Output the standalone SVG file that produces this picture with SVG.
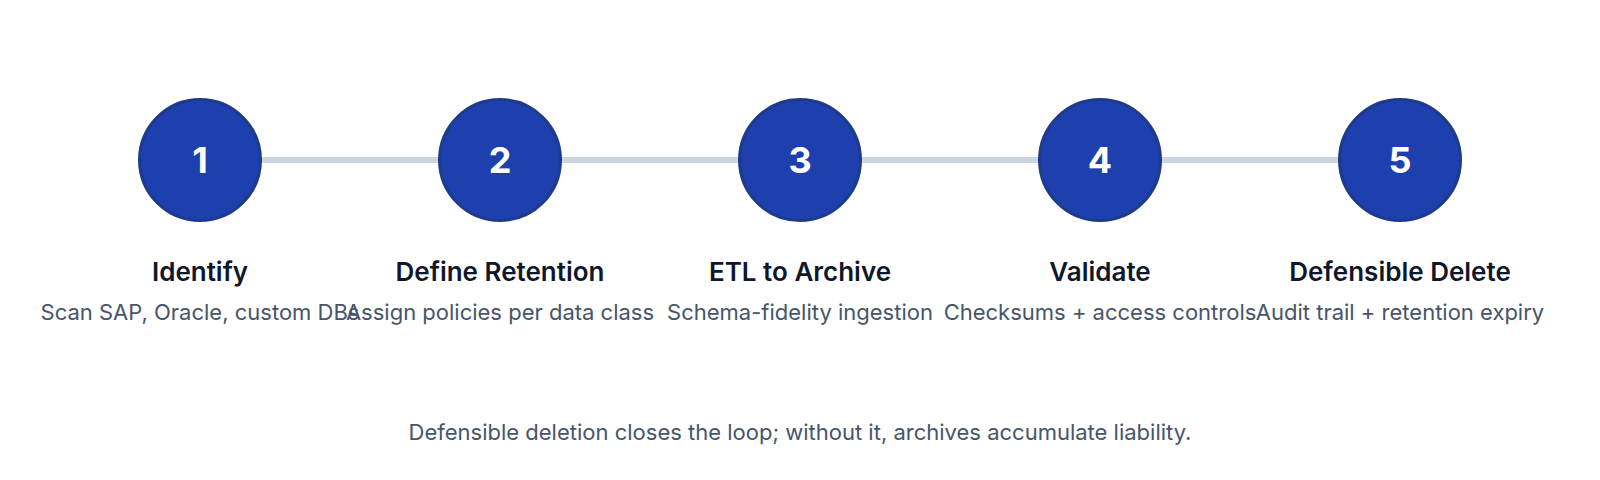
<svg xmlns="http://www.w3.org/2000/svg" width="1600" height="480" viewBox="0 0 1600 480">
<style>
.c{fill:#1e40af;stroke:#1e3a8a;stroke-width:3}
.n{font-family:Inter,"Liberation Sans",sans-serif;font-weight:700;font-size:36px;fill:#fff;text-anchor:middle}
.t{font-family:Inter,"Liberation Sans",sans-serif;font-weight:600;font-size:26px;fill:#0f172a;text-anchor:middle}
.s{font-family:Inter,"Liberation Sans",sans-serif;font-size:22px;fill:#475569;text-anchor:middle}
.l{stroke:#cbd5e1;stroke-width:6}
</style>
<rect width="1600" height="480" fill="#fff"/>
<g id="connectors">
<line class="l" x1="200" y1="160" x2="500" y2="160"/>
<line class="l" x1="500" y1="160" x2="800" y2="160"/>
<line class="l" x1="800" y1="160" x2="1100" y2="160"/>
<line class="l" x1="1100" y1="160" x2="1400" y2="160"/>
</g>
<g id="step1"><circle class="c" cx="200" cy="160" r="60.5"/><text class="n" x="200" y="173">1</text><text class="t" x="200" y="281">Identify</text><text class="s" x="200" y="320">Scan SAP, Oracle, custom DBs</text></g>
<g id="step2"><circle class="c" cx="500" cy="160" r="60.5"/><text class="n" x="500" y="173">2</text><text class="t" x="500" y="281">Define Retention</text><text class="s" x="500" y="320">Assign policies per data class</text></g>
<g id="step3"><circle class="c" cx="800" cy="160" r="60.5"/><text class="n" x="800" y="173">3</text><text class="t" x="800" y="281">ETL to Archive</text><text class="s" x="800" y="320">Schema-fidelity ingestion</text></g>
<g id="step4"><circle class="c" cx="1100" cy="160" r="60.5"/><text class="n" x="1100" y="173">4</text><text class="t" x="1100" y="281">Validate</text><text class="s" x="1100" y="320">Checksums + access controls</text></g>
<g id="step5"><circle class="c" cx="1400" cy="160" r="60.5"/><text class="n" x="1400" y="173">5</text><text class="t" x="1400" y="281">Defensible Delete</text><text class="s" x="1400" y="320">Audit trail + retention expiry</text></g>
<text class="s" x="800" y="440">Defensible deletion closes the loop; without it, archives accumulate liability.</text>
</svg>
